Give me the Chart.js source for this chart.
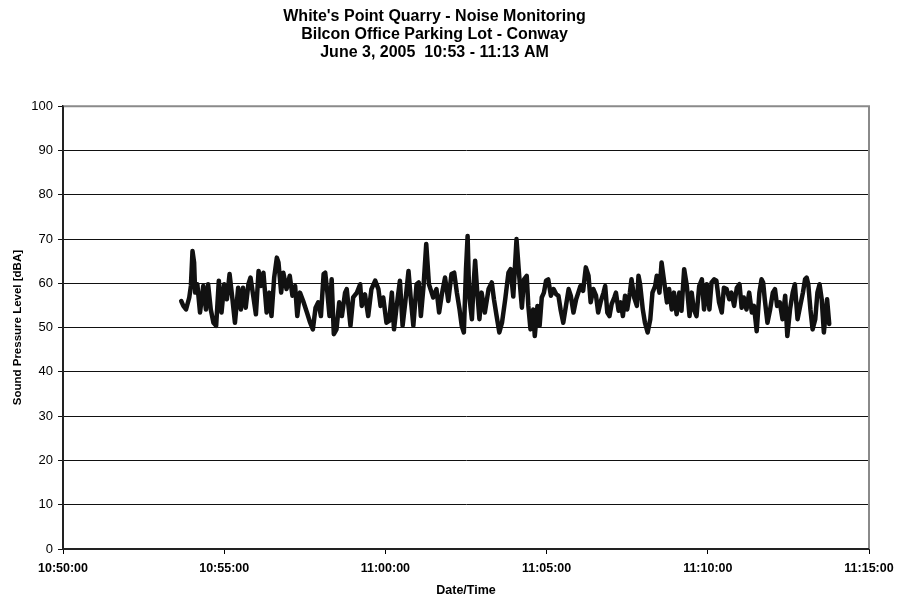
<!DOCTYPE html>
<html>
<head>
<meta charset="utf-8">
<script src="https://cdn.jsdelivr.net/npm/chart.js@4/dist/chart.umd.min.js"></script>
<style>
    html, body { margin: 0; padding: 0; background: #fff; }
</style>
</head>
<body>
<canvas id="noise_Chart" width="903" height="602"></canvas>
<script>
// seconds after 10:50:00
const times = [
    220, 224, 229, 235, 238, 241, 244, 246, 250, 255,
    261, 266, 270, 275, 280, 285, 290, 295, 300, 305,
    310, 315, 320, 326, 331, 335, 340, 345, 349, 354,
    359, 364, 368, 373, 379, 384, 388, 393, 398, 401,
    406, 410, 416, 422, 427, 432, 436, 441, 447, 454,
    460, 465, 470, 475, 480, 485, 488, 492, 496, 500,
    504, 509, 514, 519, 525,
    528, 535, 540, 547, 553, 556, 562, 568, 574, 581,
    587, 591, 596, 602, 607, 612, 616, 621, 627, 632,
    637, 643, 647, 652, 658, 662, 666, 671, 676, 681,
    685, 689, 695, 700, 705, 711, 717, 723, 728, 733,
    738, 742, 746, 750, 753, 756, 761, 764, 767, 771,
    775, 779, 785, 792, 798, 802, 807, 812, 817, 823,
    829, 833,
    838, 844, 849, 854, 858, 863, 866, 870, 875, 878,
    883, 887, 891, 895, 899, 903, 908, 913, 918, 922,
    926, 931, 936, 941, 945, 950, 955, 959, 963, 968,
    973, 978, 982, 987, 992, 996, 1001, 1006, 1009, 1013,
    1017, 1021, 1026, 1029, 1034, 1038, 1042, 1046, 1050, 1055,
    1058, 1063, 1068, 1071, 1074, 1079, 1083, 1088, 1093, 1097,
    1102, 1105, 1110, 1114, 1119, 1124, 1128, 1133, 1137, 1142,
    1147, 1151, 1156, 1161,
    1166, 1170, 1174, 1179, 1184, 1189, 1193, 1198, 1203, 1207,
    1212, 1216, 1221, 1226, 1230, 1235, 1240, 1244, 1249, 1254,
    1259, 1263, 1267, 1272, 1277, 1282, 1286, 1291, 1296, 1300,
    1303, 1306, 1311, 1316, 1321, 1325, 1329, 1334, 1339, 1344,
    1348, 1353, 1358, 1362, 1367, 1372, 1377, 1381, 1384, 1387,
    1391, 1395, 1400, 1404, 1408, 1412, 1416, 1420, 1422, 1426
];

const levels = [
    56.0, 54.9, 54.1, 56.8, 59.4, 67.3, 64.7, 57.9, 59.8, 53.4,
    59.4, 54.1, 59.8, 54.1, 51.1, 50.4, 60.6, 53.4, 59.8, 56.4,
    62.1, 56.8, 51.1, 59.0, 54.1, 59.0, 54.5, 59.8, 61.3, 57.2,
    53.0, 62.8, 59.4, 62.4, 53.4, 57.9, 52.6, 61.3, 65.8, 64.7,
    57.9, 62.4, 58.7, 61.7, 57.2, 59.4, 52.6, 57.9, 56.0, 53.4,
    51.1, 49.6, 54.5, 55.7, 52.6, 62.1, 62.4, 57.9, 52.6, 60.9,
    48.5, 49.6, 55.7, 52.6, 57.9,
    58.7, 50.4, 56.8, 57.9, 59.8, 54.9, 57.5, 52.6, 58.7, 60.6,
    58.7, 54.9, 56.8, 51.1, 51.5, 57.9, 49.6, 54.9, 60.6, 50.4,
    55.7, 62.8, 56.8, 50.4, 59.8, 60.2, 52.6, 59.4, 68.9, 59.8,
    58.3, 56.8, 58.7, 53.4, 57.5, 61.3, 56.0, 62.1, 62.4, 57.9,
    54.1, 50.4, 48.9, 63.2, 70.7, 57.2, 51.9, 59.4, 65.1, 57.9,
    51.9, 57.9, 53.4, 58.7, 60.2, 56.4, 52.6, 48.9, 51.1, 56.4,
    62.4, 63.2,
    57.0, 70.0, 61.7, 54.5, 60.9, 61.7, 54.9, 49.6, 54.1, 48.1,
    54.9, 50.4, 56.8, 57.9, 60.6, 60.9, 57.2, 58.7, 57.5, 57.2,
    54.1, 51.1, 54.9, 58.7, 57.2, 53.4, 56.4, 57.9, 59.4, 58.3,
    63.6, 61.7, 55.7, 58.7, 57.2, 53.4, 56.0, 57.9, 59.4, 53.4,
    52.6, 55.3, 56.8, 57.9, 53.8, 55.7, 52.6, 57.2, 54.1, 57.9,
    60.9, 56.8, 54.9, 61.7, 59.8, 54.1, 51.1, 48.9, 51.9, 57.9,
    59.4, 61.7, 57.9, 64.7, 60.2, 55.7, 58.7, 54.1, 57.9, 53.0,
    57.9, 53.8, 63.2, 59.4,
    52.6, 57.9, 54.1, 52.6, 59.4, 60.9, 54.1, 59.8, 54.1, 60.2,
    60.9, 60.6, 55.7, 53.4, 59.0, 58.7, 56.4, 57.9, 54.9, 59.0,
    59.8, 54.5, 56.8, 54.1, 57.9, 53.4, 54.9, 49.2, 57.9, 60.9,
    60.2, 56.4, 51.1, 54.1, 57.9, 58.7, 54.9, 55.7, 51.9, 57.2,
    48.1, 54.1, 57.9, 59.8, 51.9, 54.9, 57.9, 60.9, 61.3, 59.8,
    54.1, 49.6, 51.9, 57.9, 59.8, 56.4, 48.9, 54.1, 56.4, 50.8
];

const tickLabels = ["10:50:00", "10:55:00", "11:00:00", "11:05:00", "11:10:00", "11:15:00"];

const titleLines = [
    "White's Point Quarry - Noise Monitoring",
    "Bilcon Office Parking Lot - Conway",
    "June 3, 2005  10:53 - 11:13 AM"
];

let points = [];
for (let i = 0; i < times.length; i++) {
    points.push({ x: times[i], y: levels[i] });
}

// grey frame round the plot area, like the Excel original
const plotFrame = {
    id: "plotFrame",
    afterDraw(chart) {
        const a = chart.chartArea;
        const ctx = chart.ctx;
        ctx.save();
        ctx.strokeStyle = "#8a8a8a";
        ctx.lineWidth = 2;
        ctx.beginPath();
        ctx.moveTo(a.left, a.top);
        ctx.lineTo(a.right, a.top);
        ctx.lineTo(a.right, a.bottom);
        ctx.stroke();
        ctx.strokeStyle = "#222";
        ctx.beginPath();
        ctx.moveTo(a.left, a.top);
        ctx.lineTo(a.left, a.bottom);
        ctx.lineTo(a.right, a.bottom);
        ctx.stroke();
        ctx.restore();
    }
};

const fontName = "'Liberation Sans', Arial, sans-serif";

new Chart("noise_Chart", {
    type: "line",
    data: {
        datasets: [{
            data: points,
            borderColor: "#111",
            borderWidth: 4.5,
            borderJoinStyle: "round",
            borderCapStyle: "round",
            pointRadius: 0,
            tension: 0,
            fill: false
        }]
    },
    options: {
        responsive: false,
        animation: false,
        layout: { padding: { top: 0, right: 34, bottom: 0, left: 0 } },
        plugins: {
            legend: { display: false },
            tooltip: { enabled: false },
            title: {
                display: true,
                text: titleLines,
                color: "#000",
                font: { family: fontName, size: 16, weight: "bold", lineHeight: 1.15 },
                padding: { top: 7, bottom: 44 }
            }
        },
        scales: {
            x: {
                type: "linear",
                min: 0,
                max: 1500,
                afterFit(scale) { scale.height = 53; },
                afterBuildTicks(scale) {
                    scale.ticks = tickLabels.map((t, i) => ({ value: i * 300 }));
                },
                ticks: {
                    color: "#000",
                    padding: 7,
                    maxRotation: 0,
                    font: { family: fontName, size: 12.5, weight: "bold" },
                    callback: (v, i) => tickLabels[i]
                },
                grid: { drawOnChartArea: false, drawTicks: true, tickLength: 5, color: "#000" },
                border: { display: true, color: "#222", width: 2 },
                title: {
                    display: true,
                    text: "Date/Time",
                    color: "#000",
                    font: { family: fontName, size: 12.5, weight: "bold" },
                    padding: { top: 4, bottom: 4 }
                }
            },
            y: {
                min: 0,
                max: 100,
                afterFit(scale) { scale.width = 63; },
                ticks: {
                    stepSize: 10,
                    color: "#000",
                    padding: 5,
                    font: { family: fontName, size: 13 }
                },
                grid: { color: "#111", lineWidth: 1, tickLength: 5 },
                border: { display: true, color: "#222", width: 2 },
                title: {
                    display: true,
                    text: "Sound Pressure Level [dBA]",
                    color: "#000",
                    font: { family: fontName, size: 11.5, weight: "bold" },
                    padding: { top: 11, bottom: 0 }
                }
            }
        }
    },
    plugins: [plotFrame]
});
</script>
</body>
</html>
